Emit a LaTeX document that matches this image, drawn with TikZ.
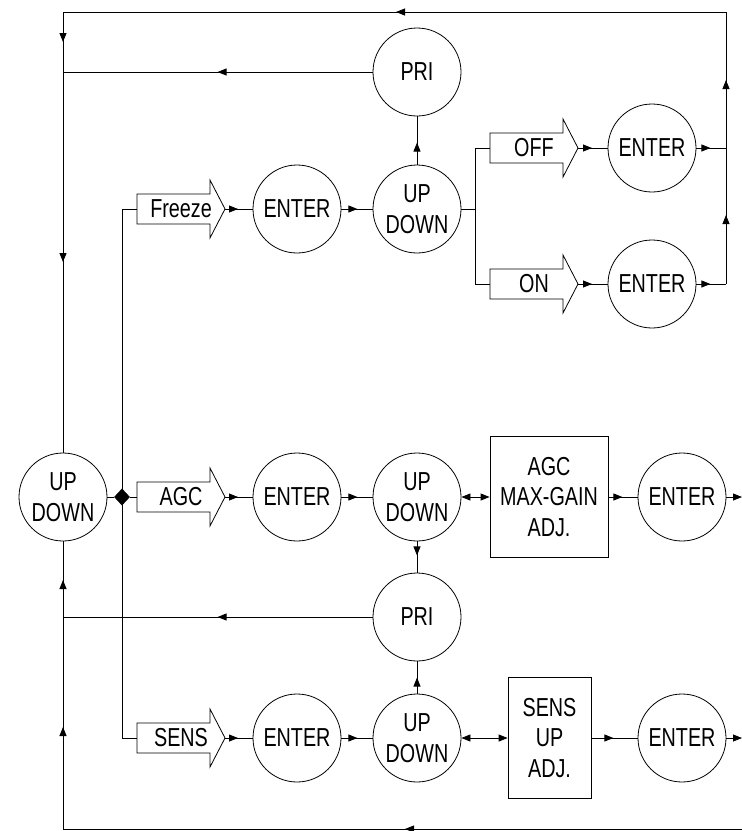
\documentclass[tikz,border=0pt]{standalone}
\usepackage{fontspec}
\newfontfamily\diagfont[FakeStretch=0.76]{Liberation Sans}
\usetikzlibrary{arrows.meta,decorations.markings,shapes.geometric}
\tikzset{
  txt/.style={font=\diagfont\fontsize{26}{30.5}\selectfont, align=center, inner sep=0pt},
  circ/.style={txt, draw, circle, minimum size=88pt},
  bx/.style={txt, draw, rectangle},
  shp/.style={draw},
  marr/.style={postaction={decorate},decoration={markings,mark=at position #1 with {\arrow{>}}}},
}
\newcommand\myblock[4]{%
  \draw[shp] (#2,#3-15) -- (#2+73,#3-15) -- (#2+73,#3-29) -- (#2+88,#3) -- (#2+73,#3+29) -- (#2+73,#3+15) -- (#2,#3+15) -- cycle;
  \node[txt] (#1) at (#2+44,#3) {#4};
  \coordinate (#1-tail) at (#2,#3);
  \coordinate (#1-tip) at (#2+88,#3);
}
\begin{document}
\begin{tikzpicture}[x=1pt,y=-1pt,line width=0.8pt,>={Triangle[length=9pt,width=7pt]}]
\useasboundingbox (0,0) rectangle (742,831);
% nodes
\node[circ] (ud0) at (63,497) {UP\\DOWN};
\node[circ] (pri1) at (417,72) {PRI};
\node[circ] (en1) at (297,209) {ENTER};
\node[circ] (ud1) at (417,209) {UP\\DOWN};
\node[circ] (enoff) at (652,148) {ENTER};
\node[circ] (enon) at (652,284) {ENTER};
\node[circ] (en2) at (297,497) {ENTER};
\node[circ] (ud2) at (417,497) {UP\\DOWN};
\node[bx, minimum width=118pt, minimum height=121pt] (bx1) at (549,497) {AGC\\MAX-GAIN\\ADJ.};
\node[circ] (en3) at (682,497) {ENTER};
\node[circ] (pri2) at (417,617) {PRI};
\node[circ] (en4) at (297,738) {ENTER};
\node[circ] (ud3) at (417,738) {UP\\DOWN};
\node[bx, minimum width=83pt, minimum height=121pt] (bx2) at (549.5,738) {SENS\\UP\\ADJ.};
\node[circ] (en5) at (682,738) {ENTER};
\node[diamond, draw, fill, minimum width=15pt, minimum height=16pt, inner sep=0pt] (dm) at (122,497) {};
\myblock{fz}{137}{209}{Freeze}
\myblock{off}{490}{148}{OFF}
\myblock{on}{490}{284}{ON}
\myblock{agc}{137}{497}{AGC}
\myblock{sens}{137}{738}{SENS}
% coordinates
\coordinate (tr) at (726,12);
\coordinate (tl) at (63,12);
\coordinate (jp1) at (63,72);
\coordinate (br) at (742,829);
\coordinate (bl) at (63,829);
\coordinate (jp2) at (63,617);
\coordinate (jr1) at (726,148);
\coordinate (jr2) at (726,284);
\coordinate (jb) at (475,209);
\coordinate (jbu) at (475,148);
\coordinate (jbd) at (475,284);
\coordinate (vtop) at (122,209);
\coordinate (vbot) at (122,738);
\coordinate (out3) at (742,497);
\coordinate (out5) at (742,738);
% top section
\draw (ud1) -- (jb);
\draw (jbu) -- (jbd);
\draw (jbu) -- (off-tail);
\draw (jbd) -- (on-tail);
\draw[marr=14pt] (off-tip) -- (enoff);
\draw[marr=14pt] (on-tip) -- (enon);
\draw[marr=14pt] (enoff) -- (jr1);
\draw[marr=14pt] (enon) -- (jr2);
\draw[marr=69pt] (jr2) -- (jr1);
\draw[marr=68pt] (jr1) -- (tr);
\draw[marr=330pt] (tr) -- (tl);
\draw[marr=30pt] (tl) -- (jp1);
\draw[marr=190pt] (jp1) -- (ud0);
\draw[marr=155pt] (pri1) -- (jp1);
\draw[marr=22pt] (ud1) -- (pri1);
\draw[marr=13pt] (fz-tip) -- (en1);
\draw[marr=16pt] (en1) -- (ud1);
% left spine
\draw (vtop) -- (vbot);
\draw (vtop) -- (fz-tail);
\draw (vbot) -- (sens-tail);
\draw (ud0) -- (dm);
\draw (dm) -- (agc-tail);
% AGC row
\draw[marr=13pt] (agc-tip) -- (en2);
\draw[marr=16pt] (en2) -- (ud2);
\draw[<->] (ud2.east) -- (bx1.west);
\draw[marr=14pt] (bx1) -- (en3);
\draw[->] (en3) -- (out3);
\draw[marr=14pt] (ud2) -- (pri2);
\draw[marr=155pt] (pri2) -- (jp2);
\draw[marr=37pt] (jp2) -- (ud0);
% SENS row
\draw[marr=13pt] (sens-tip) -- (en4);
\draw[marr=16pt] (en4) -- (ud3);
\draw[marr=16pt] (ud3) -- (pri2);
\draw[<->] (ud3.east) -- (bx2.west);
\draw[marr=22pt] (bx2) -- (en5);
\draw[->] (en5) -- (out5);
% bottom loop
\draw[marr=337pt] (br) -- (bl);
\draw[marr=102pt] (bl) -- (jp2);
\end{tikzpicture}
\end{document}
